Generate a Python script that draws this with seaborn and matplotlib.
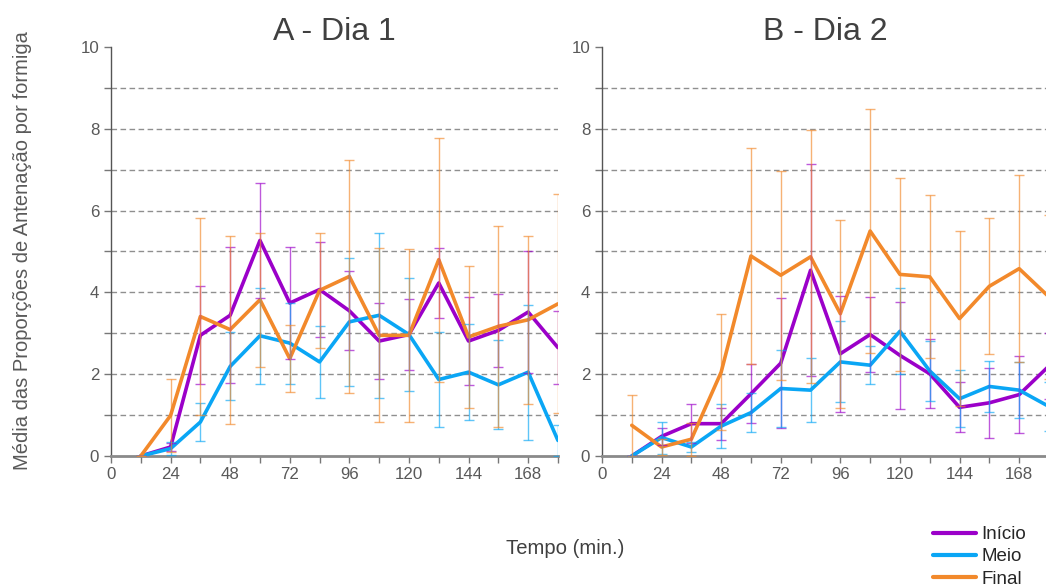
import numpy as np
import pandas as pd
import seaborn as sns
import matplotlib.pyplot as plt
from matplotlib.ticker import MultipleLocator

# ---------------- data ----------------
tempo = [12, 24, 36, 48, 60, 72, 84, 96, 108, 120, 132, 144, 156, 168, 180]

a_inicio = [0, 0.22, 2.95, 3.44, 5.27, 3.74, 4.07, 3.55, 2.81, 2.97, 4.23, 2.81, 3.07, 3.52, 2.65]
a_meio = [0, 0.18, 0.83, 2.19, 2.94, 2.76, 2.30, 3.28, 3.44, 2.97, 1.87, 2.05, 1.74, 2.05, 0.38]
a_final = [0, 0.99, 3.41, 3.09, 3.82, 2.38, 4.05, 4.39, 2.95, 2.95, 4.80, 2.91, 3.17, 3.33, 3.72]
a_inicio_err = [0, 0.10, 1.20, 1.66, 1.40, 1.37, 1.17, 0.97, 0.92, 0.87, 0.86, 1.07, 0.90, 1.48, 0.89]
a_meio_err = [0, 0.15, 0.47, 0.83, 1.17, 0.99, 0.87, 1.56, 2.02, 1.39, 1.15, 1.17, 1.09, 1.65, 0.39]
a_final_err = [0, 0.90, 2.40, 2.30, 1.64, 0.82, 1.40, 2.85, 2.13, 2.12, 2.98, 1.73, 2.45, 2.05, 2.68]

b_inicio = [0, 0.48, 0.79, 0.79, 1.52, 2.27, 4.54, 2.50, 2.97, 2.46, 2.01, 1.19, 1.30, 1.50, 2.20]
b_meio = [0, 0.45, 0.22, 0.73, 1.06, 1.65, 1.61, 2.30, 2.22, 3.05, 2.08, 1.40, 1.70, 1.61, 1.21]
b_final = [0.75, 0.22, 0.41, 2.05, 4.89, 4.42, 4.87, 3.48, 5.50, 4.44, 4.38, 3.36, 4.15, 4.58, 3.89]
b_inicio_err = [0, 0.20, 0.48, 0.39, 0.72, 1.59, 2.59, 1.42, 0.91, 1.31, 0.84, 0.61, 0.85, 0.95, 0.80]
b_meio_err = [0, 0.39, 0.13, 0.53, 0.47, 0.95, 0.79, 0.99, 0.47, 1.05, 0.73, 0.70, 0.62, 0.69, 0.60]
b_final_err = [0.75, 0.20, 0.40, 1.41, 2.63, 2.55, 3.09, 2.30, 2.98, 2.36, 1.99, 2.13, 1.66, 2.29, 2.00]

grupos = ['Início', 'Meio', 'Final']
cores = {'Início': '#9B00C9', 'Meio': '#0AA6F5', 'Final': '#F2892B'}


def make_df(ini, mei, fin, ini_e, mei_e, fin_e):
    rows = []
    for g, v, e in zip(grupos, [ini, mei, fin], [ini_e, mei_e, fin_e]):
        for t, vv, ee in zip(tempo, v, e):
            rows.append({'tempo': t, 'valor': vv, 'erro': ee, 'grupo': g})
    return pd.DataFrame(rows)


df_a = make_df(a_inicio, a_meio, a_final, a_inicio_err, a_meio_err, a_final_err)
df_b = make_df(b_inicio, b_meio, b_final, b_inicio_err, b_meio_err, b_final_err)

# ---------------- plot ----------------
sns.set_style('white')
plt.rcParams['font.family'] = ['Liberation Sans', 'DejaVu Sans']

fig = plt.figure(figsize=(10.46, 5.88), dpi=100)
ax_a = fig.add_axes([0.1061, 0.2245, 0.4273, 0.6956])
ax_b = fig.add_axes([0.5755, 0.2245, 0.4273, 0.6956])


def draw_panel(ax, df, title):
    for y in range(1, 10):
        ax.axhline(y, color='#8f8f8f', lw=1, ls=(0, (4, 2.5)), zorder=0)
    sns.lineplot(data=df, x='tempo', y='valor', hue='grupo', palette=cores,
                 hue_order=grupos, lw=2.6, ax=ax, legend=False, zorder=3,
                 errorbar=None)
    for g in grupos:
        d = df[df.grupo == g]
        ax.errorbar(d.tempo, d.valor, yerr=d.erro, fmt='none', ecolor=cores[g],
                    elinewidth=1, capsize=3.5, capthick=1, alpha=0.65, zorder=4)
    ax.set_xlim(0, 180)
    ax.set_ylim(0, 10)
    ax.xaxis.set_major_locator(MultipleLocator(24))
    ax.xaxis.set_minor_locator(MultipleLocator(12))
    ax.yaxis.set_major_locator(MultipleLocator(2))
    ax.yaxis.set_minor_locator(MultipleLocator(1))
    ax.set_xticks([0, 24, 48, 72, 96, 120, 144, 168])
    ax.tick_params(axis='both', which='both', direction='out', length=5,
                   width=1, color='#777777', labelsize=12.2, labelcolor='#595959',
                   bottom=True, left=True)
    ax.tick_params(axis='x', pad=3)
    for s in ['top', 'right']:
        ax.spines[s].set_visible(False)
    ax.spines['left'].set_color('#555555')
    ax.spines['left'].set_linewidth(1)
    ax.spines['bottom'].set_color('#8a8a8a')
    ax.spines['bottom'].set_linewidth(2)
    ax.set_xlabel('')
    ax.set_ylabel('')
    ax.set_title(title, fontsize=23, color='#404040', pad=0)
    ax.patch.set_alpha(0)


draw_panel(ax_a, df_a, 'A - Dia 1')
draw_panel(ax_b, df_b, 'B - Dia 2')

fig.text(565 / 1046, 1 - 549 / 588, 'Tempo (min.)', ha='center', va='center',
         fontsize=14.6, color='#404040')
fig.text(23 / 1046, 1 - 251 / 588, 'Média das Proporções de Antenação por formiga',
         rotation=90, ha='center', va='center', fontsize=14.5, color='#595959')

handles = [plt.Line2D([], [], color=cores[g], lw=3) for g in grupos]
fig.legend(handles, grupos, loc='upper left', bbox_to_anchor=(933 / 1046, 1 - 526 / 588),
           frameon=False, fontsize=13.5, handlelength=2.3, handletextpad=0.27,
           labelspacing=0.27, borderpad=0, borderaxespad=0)

plt.savefig('out.png', dpi=100)
